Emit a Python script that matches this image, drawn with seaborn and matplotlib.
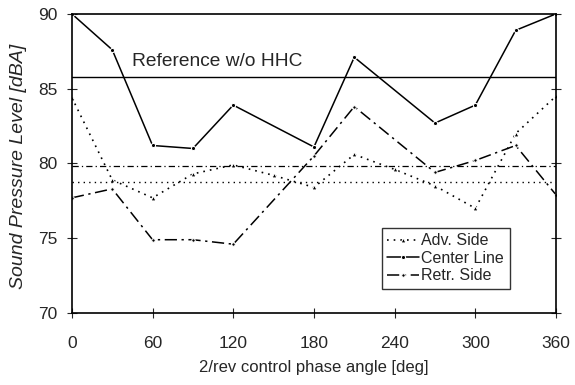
import numpy as np
import pandas as pd
import matplotlib
matplotlib.use("Agg")
import matplotlib.pyplot as plt
import seaborn as sns

# Data
angles_center = [0, 30, 60, 90, 120, 180, 210, 270, 300, 330, 360]
center_line = [90.0, 87.6, 81.2, 81.0, 83.9, 81.1, 87.1, 82.7, 83.9, 88.9, 90.0]

angles_adv = [0, 30, 60, 90, 120, 150, 180, 210, 240, 270, 300, 330, 360]
adv_side = [84.4, 78.9, 77.7, 79.3, 79.9, 79.2, 78.4, 80.6, 79.6, 78.5, 77.0, 82.0, 84.5]

angles_retr = [0, 30, 60, 90, 120, 180, 210, 270, 300, 330, 360]
retr_side = [77.7, 78.3, 74.9, 74.9, 74.6, 80.5, 83.8, 79.4, 80.2, 81.2, 77.9]

ref_center = 85.8
ref_retr = 79.8
ref_adv = 78.75

xticks = [0, 60, 120, 180, 240, 300, 360]
yticks = [70, 75, 80, 85, 90]

sns.set_style("ticks")
plt.rcParams['font.family'] = ['Liberation Sans', 'DejaVu Sans']

fig = plt.figure(figsize=(5.75, 3.85), dpi=100)
ax = fig.add_axes([0.125, 0.187, 0.842, 0.777])

df_adv = pd.DataFrame({"angle": angles_adv, "spl": adv_side})
df_c = pd.DataFrame({"angle": angles_center, "spl": center_line})
df_r = pd.DataFrame({"angle": angles_retr, "spl": retr_side})

sns.lineplot(data=df_adv, x="angle", y="spl", ax=ax, color="black", lw=1.2,
             linestyle=(0, (1, 3)), marker="^", markersize=3.5, label="Adv. Side")
sns.lineplot(data=df_c, x="angle", y="spl", ax=ax, color="black", lw=1.1,
             linestyle="-", marker="o", markersize=3, label="Center Line")
sns.lineplot(data=df_r, x="angle", y="spl", ax=ax, color="black", lw=1.1,
             linestyle=(0, (8, 3, 1.5, 3)), marker="o", markersize=2.5, label="Retr. Side")

ax.axhline(ref_center, color="black", lw=1.0)
ax.axhline(ref_retr, color="black", lw=0.9, linestyle=(0, (5, 2.5, 1, 2.5)))
ax.axhline(ref_adv, color="black", lw=1.0, linestyle=(0, (1, 3)))

ax.text(45, 86.8, "Reference w/o HHC", fontsize=13.8, ha="left", va="center")

ax.set_xlim(0, 360)
ax.set_ylim(70, 90)
ax.set_xticks(xticks)
ax.set_yticks(yticks)
ax.tick_params(direction="inout", length=7, width=0.8, labelsize=12.5,
               top=False, right=True)
ax.tick_params(axis="x", pad=13)
ax.tick_params(axis="y", pad=7)
ax.set_xlabel("2/rev control phase angle [deg]", fontsize=12)
ax.xaxis.set_label_coords(0.5, -0.158)
ax.set_ylabel("Sound Pressure Level [dBA]", fontsize=14, style="italic")
ax.yaxis.set_label_coords(-0.093, 0.49)
for s in ax.spines.values():
    s.set_linewidth(1.2)
    s.set_color("black")

leg = ax.legend(loc="lower right", bbox_to_anchor=(0.921, 0.054), fontsize=11.5,
                frameon=True, fancybox=False, edgecolor="black", handlelength=2.0,
                handletextpad=0.15, borderpad=0.35, labelspacing=0.15)
leg.get_frame().set_linewidth(1.0)

fig.savefig("out.png", dpi=100)
